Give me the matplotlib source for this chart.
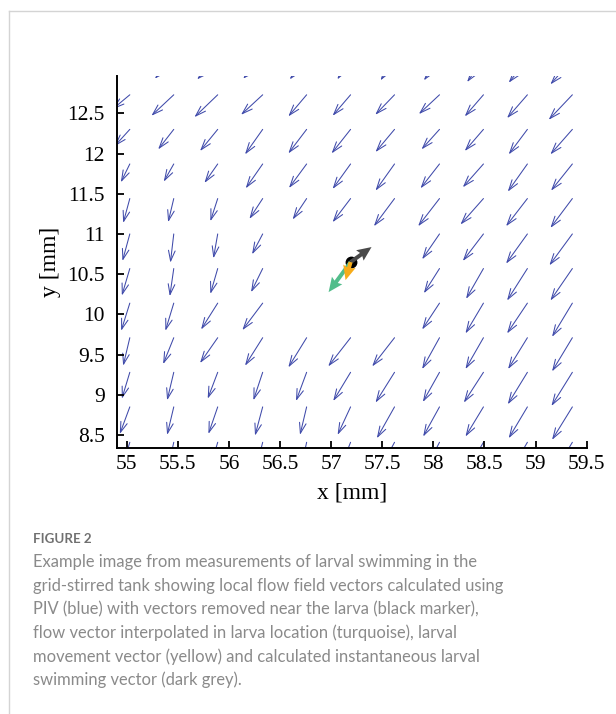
import matplotlib
matplotlib.use("Agg")
import matplotlib.pyplot as plt
from matplotlib.patches import FancyArrowPatch
from matplotlib.lines import Line2D

# PIV grid positions [mm]
x_grid = [55.03, 55.46, 55.89, 56.33, 56.76, 57.19, 57.62, 58.06, 58.49, 58.92, 59.36]
y_grid = [8.41, 8.85, 9.28, 9.71, 10.14, 10.57, 11.00, 11.44, 11.87, 12.30, 12.73, 13.17]

# flow vectors (rows from bottom to top), None = removed near the larva
U = [
    [-0.08, -0.06, -0.08, -0.07, -0.06, -0.11, -0.16, -0.15, -0.17, -0.18, -0.19],
    [-0.098, -0.065, -0.091, -0.075, -0.065, -0.127, -0.173, -0.160, -0.176, -0.183, -0.199],
    [-0.078, -0.065, -0.098, -0.091, -0.104, -0.170, -0.186, -0.163, -0.192, -0.192, -0.205],
    [-0.065, -0.104, -0.173, -0.173, -0.179, -0.219, -0.219, -0.170, -0.176, -0.189, -0.199],
    [-0.085, -0.082, -0.163, -0.199, None, None, None, -0.170, -0.176, -0.199, -0.199],
    [-0.078, -0.039, -0.072, -0.114, None, None, None, -0.153, -0.170, -0.199, -0.215],
    [-0.072, -0.033, -0.042, -0.104, None, None, None, -0.170, -0.202, -0.209, -0.225],
    [-0.065, -0.055, -0.072, -0.130, -0.137, -0.176, -0.202, -0.209, -0.225, -0.209, -0.215],
    [-0.088, -0.098, -0.130, -0.166, -0.173, -0.176, -0.186, -0.186, -0.202, -0.192, -0.209],
    [-0.150, -0.153, -0.173, -0.173, -0.179, -0.186, -0.186, -0.176, -0.183, -0.183, -0.215],
    [-0.170, -0.219, -0.228, -0.212, -0.179, -0.176, -0.189, -0.202, -0.183, -0.199, -0.232],
    [-0.190, -0.186, -0.202, -0.192, -0.166, -0.130, -0.137, -0.153, -0.160, -0.183, -0.215],
]
V = [
    [-0.33, -0.34, -0.34, -0.35, -0.35, -0.35, -0.38, -0.37, -0.37, -0.39, -0.40],
    [-0.336, -0.348, -0.336, -0.357, -0.348, -0.348, -0.390, -0.369, -0.369, -0.390, -0.410],
    [-0.328, -0.348, -0.328, -0.348, -0.357, -0.357, -0.377, -0.369, -0.377, -0.398, -0.419],
    [-0.348, -0.328, -0.315, -0.348, -0.369, -0.357, -0.357, -0.390, -0.390, -0.390, -0.419],
    [-0.344, -0.344, -0.328, -0.336, None, None, None, -0.328, -0.377, -0.377, -0.419],
    [-0.336, -0.344, -0.315, -0.294, None, None, None, -0.307, -0.377, -0.398, -0.398],
    [-0.336, -0.357, -0.303, -0.253, None, None, None, -0.315, -0.336, -0.369, -0.390],
    [-0.303, -0.294, -0.282, -0.253, -0.261, -0.294, -0.344, -0.344, -0.323, -0.344, -0.365],
    [-0.228, -0.220, -0.236, -0.303, -0.299, -0.311, -0.332, -0.303, -0.290, -0.344, -0.332],
    [-0.210, -0.249, -0.269, -0.311, -0.299, -0.299, -0.282, -0.249, -0.269, -0.311, -0.311],
    [-0.180, -0.261, -0.278, -0.249, -0.269, -0.261, -0.249, -0.240, -0.269, -0.290, -0.311],
    [-0.240, -0.240, -0.249, -0.240, -0.249, -0.249, -0.261, -0.261, -0.282, -0.290, -0.311],
]

# larva position and vectors [mm]
larva_x = 57.19
larva_y = 10.65
flow_u, flow_v = -0.215, -0.373      # interpolated flow (turquoise)
move_u, move_v = -0.049, -0.224      # larval movement (yellow)
swim_u, swim_v = 0.205, 0.187        # swimming vector (dark grey)

x_ticks = [55, 55.5, 56, 56.5, 57, 57.5, 58, 58.5, 59, 59.5]
y_ticks = [8.5, 9, 9.5, 10, 10.5, 11, 11.5, 12, 12.5]

caption_title = "FIGURE 2"
caption_lines = [
    "Example image from measurements of larval swimming in the",
    "grid-stirred tank showing local flow field vectors calculated using",
    "PIV (blue) with vectors removed near the larva (black marker),",
    "flow vector interpolated in larva location (turquoise), larval",
    "movement vector (yellow) and calculated instantaneous larval",
    "swimming vector (dark grey).",
]

blue = "#3f4aaa"
serif = "Liberation Serif"

fig = plt.figure(figsize=(6.16, 7.14), dpi=100)
ax = fig.add_axes([0.190, 0.3721, 0.7624, 0.5215])

for j, yy in enumerate(y_grid):
    for i, xx in enumerate(x_grid):
        u = U[j][i]
        v = V[j][i]
        if u is None:
            continue
        arr = FancyArrowPatch((xx, yy), (xx + u, yy + v),
                              arrowstyle="->,head_length=0.5,head_width=0.16",
                              mutation_scale=15, lw=0.75, color=blue,
                              shrinkA=0, shrinkB=0)
        ax.add_patch(arr)

ax.plot(larva_x, larva_y, "o", color="black", ms=7.5, zorder=5)
qk = dict(angles="xy", scale_units="xy", scale=1, width=0.0085,
          headwidth=3.2, headlength=3.6, headaxislength=3.2, zorder=6)
ax.quiver(larva_x, larva_y, flow_u, flow_v, color="#52bd8b", **qk)
ax.quiver(larva_x, larva_y, swim_u, swim_v, color="#4a4a4a", **qk)
ax.quiver(larva_x, larva_y, move_u, move_v, color="#f7ac1a", **qk)

ax.set_xlim(54.905, 59.5)
ax.set_ylim(8.335, 12.964)
ax.set_xticks(x_ticks)
ax.set_yticks(y_ticks)
ax.set_xticklabels([f"{t:g}" for t in x_ticks], family=serif, fontsize=15.5)
ax.set_yticklabels([f"{t:g}" for t in y_ticks], family=serif, fontsize=15.5)
ax.tick_params(direction="in", length=5, width=1.3, color="black")
ax.tick_params(axis="y", pad=9)
ax.tick_params(axis="x", pad=5)
for s in ["top", "right"]:
    ax.spines[s].set_visible(False)
for s in ["left", "bottom"]:
    ax.spines[s].set_linewidth(1.4)
ax.set_xlabel("x [mm]", family=serif, fontsize=17, labelpad=6)
ax.set_ylabel("y [mm]", family=serif, fontsize=17, labelpad=4)

# caption
fig.text(33 / 616, 1 - 543 / 714, caption_title, family="Lato",
         fontsize=9.6, fontweight="bold", color="#707070", va="baseline")
for k, line in enumerate(caption_lines):
    fig.text(33 / 616, 1 - (567 + 23.7 * k) / 714, line, family="Lato",
             fontsize=11.9, color="#8a8a8a", va="baseline")

# panel border
fig.add_artist(Line2D([9 / 616, 1], [1 - 11 / 714, 1 - 11 / 714],
                      transform=fig.transFigure, color="#d4d4d4", lw=1))
fig.add_artist(Line2D([9 / 616, 9 / 616], [0, 1 - 11 / 714],
                      transform=fig.transFigure, color="#d4d4d4", lw=1))

fig.savefig("out.png", dpi=100)
